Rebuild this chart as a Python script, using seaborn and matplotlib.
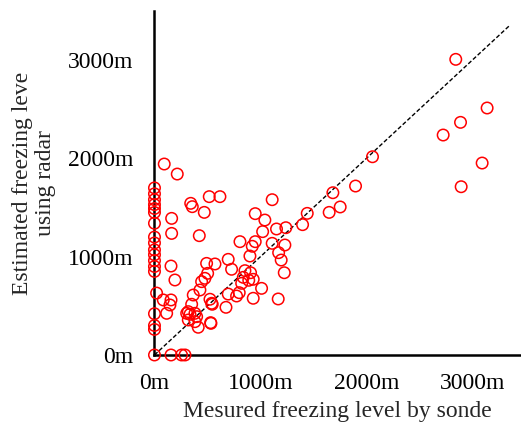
import matplotlib
matplotlib.use("Agg")
import matplotlib.pyplot as plt
import seaborn as sns
import pandas as pd

# Freezing level: sonde measurement (x) vs radar estimate (y), metres
sonde = [
    0, 0, 0, 0, 0, 0, 0, 0, 0, 0, 0, 0, 0, 0, 20, 0, 0, 0, 0,
    92, 215, 162, 162, 423, 342, 357, 470, 517, 618,
    156, 193, 83, 156, 146, 115,
    156, 256, 288,
    492, 571, 502, 476, 445, 429, 366, 351, 319, 304, 335, 382, 398, 319, 382, 413, 533, 524, 540,
    696, 728, 854, 907, 901, 807, 951, 923, 951, 1042, 1021, 1152, 1240, 1111, 1231, 1172, 1196,
    1225, 1111, 1398, 1442, 1649, 1753, 1684, 1898, 2058,
    838, 932, 823, 1011, 696, 775, 800, 932, 1168, 545, 675, 530, 890,
    2844, 3140, 2889, 2725, 3093, 2895,
]
radar = [
    1700, 1640, 1580, 1530, 1490, 1450, 1340, 1200, 1140, 1070, 1020, 960, 900, 850, 630, 420, 300, 260, 0,
    1943, 1841, 1390, 1237, 1214, 1543, 1509, 1451, 1611, 1611,
    905, 763, 560, 560, 509, 424,
    0, 0, 0,
    932, 926, 831, 780, 746, 661, 610, 516, 441, 424, 414, 424, 390, 356, 339, 282, 322, 567, 526,
    973, 872, 858, 837, 1007, 1153, 1153, 1106, 1438, 1373, 1255, 1282, 1295, 1136, 1119, 1041, 966,
    837, 1580, 1326, 1441, 1451, 1506, 1651, 1719, 2017,
    790, 770, 729, 678, 620, 600, 634, 577, 570, 516, 485, 329, 760,
    3008, 2513, 2367, 2238, 1953, 1712,
]

x_ticks = [0, 1000, 2000, 3000]
y_ticks = [0, 1000, 2000, 3000]
tick_labels = ["0m", "1000m", "2000m", "3000m"]
one_to_one = [0, 3350]

df = pd.DataFrame({"sonde": sonde, "radar": radar})

sns.set_style("white")
plt.rcParams["font.family"] = ["Liberation Serif", "DejaVu Serif"]

fig = plt.figure(figsize=(5.21, 4.23), dpi=100)
ax = fig.add_axes([0.2965, 0.1608, 0.7015, 0.8132])

ax.plot(one_to_one, one_to_one, color="black", lw=1.0, linestyle=(0, (3, 1.6)))
sns.scatterplot(data=df, x="sonde", y="radar", ax=ax, marker="o", s=68,
                facecolors="none", edgecolors="#ff0000", linewidth=1.1,
                clip_on=False, zorder=3)

ax.set_xlim(0, 3450)
ax.set_ylim(0, 3500)
ax.set_xticks(x_ticks)
ax.set_xticklabels(tick_labels)
ax.set_yticks(y_ticks)
ax.set_yticklabels(tick_labels)

for side in ("top", "right"):
    ax.spines[side].set_visible(False)
for side in ("left", "bottom"):
    ax.spines[side].set_linewidth(1.8)
    ax.spines[side].set_color("black")

ax.tick_params(axis="both", direction="in", length=5, width=1.8,
               labelsize=17, colors="black")
ax.tick_params(axis="y", pad=15.5)
ax.tick_params(axis="x", pad=13)

ax.set_xlabel("Mesured freezing level by sonde", fontsize=17, labelpad=5)
ax.set_ylabel("Estimated freezing leve\nusing radar", fontsize=17,
              labelpad=8, linespacing=1.15)

fig.savefig("out.png", dpi=100)
